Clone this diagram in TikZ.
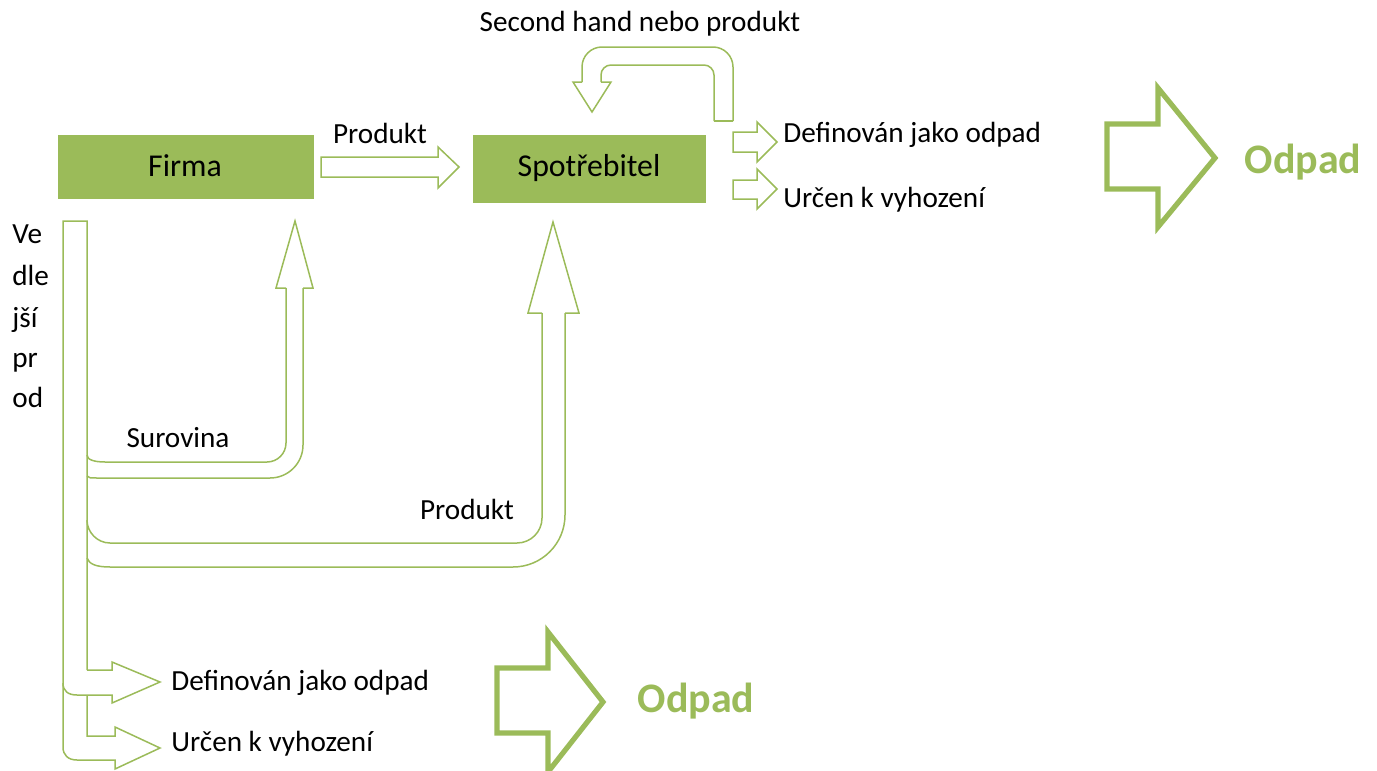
\documentclass[tikz,border=0pt]{standalone}
\usepackage{fontspec}
\setmainfont{Carlito}
\definecolor{og}{HTML}{9BBB59}
\begin{document}
\begin{tikzpicture}[x=0.5pt,y=-0.5pt,
  outl/.style={draw=og, line width=0.75pt, line join=miter},
  bigarrow/.style={draw=og, line width=2.6pt, line join=miter},
  box/.style={fill=og, draw=none},
  lbl/.style={font=\fontsize{14.6pt}{17pt}\selectfont, inner sep=0pt, text height=9.4pt, text depth=0pt},
  boxlbl/.style={font=\fontsize{15.9pt}{19pt}\selectfont, inner sep=0pt, text height=10.2pt, text depth=0pt},
  odpad/.style={font=\fontsize{21pt}{25pt}\selectfont\bfseries, text=og, inner sep=0pt, text height=13.5pt, text depth=0pt}]
\useasboundingbox (0,0) rectangle (1377,771);
% boxes
\fill[box] (58,135) rectangle (314,199);
\fill[box] (473,135) rectangle (706,203);
\node[boxlbl] (firma) at (185,166) {Firma};
\node[boxlbl] (spotr) at (589,166) {Spotřebitel};
% Firma -> Spotrebitel
\draw[outl] (321,157) -- (438,157) -- (438,147) -- (459,167) -- (438,188) -- (438,177) -- (321,177) -- cycle;
\node[lbl] (prod1) at (380,134) {Produkt};
% U-turn
\draw[outl] (714,121) [rounded corners=5pt] -- (714,65) -- (601,65) -- (601,82);
\draw[outl] (601,82) -- (611,82) -- (592,112) -- (573,82) -- (582,82);
\draw[outl] (582,82) [rounded corners=10pt] -- (582,47) -- (733,47) -- (733,121);
\draw[outl] (733,121) -- (714,121);
\node[lbl] (second) at (640,22) {Second hand nebo produkt};
% right small arrows
\draw[outl] (733,132) -- (757,132) -- (757,122) -- (777,142) -- (757,162) -- (757,152) -- (733,152) -- cycle;
\draw[outl] (733,180) -- (757,180) -- (757,169) -- (777,189) -- (757,209) -- (757,199) -- (733,199) -- cycle;
\node[lbl, anchor=west] (def1) at (783,133) {Definován jako odpad};
\node[lbl, anchor=west] (urc1) at (783,198) {Určen k vyhození};
% big arrow top
\draw[bigarrow] (1107,124) -- (1158,124) -- (1158,88) -- (1215,158) -- (1158,227) -- (1158,189) -- (1107,189) -- cycle;
\node[odpad] (odpad1) at (1303,160) {Odpad};
% left band
\draw[outl] (87,670) -- (87,221) -- (63,221) -- (63,747) .. controls (63,755) and (68,760) .. (77,760) -- (115,760) -- (115,769) -- (160,748) -- (115,727) -- (115,736) -- (87,736) -- (87,695);
\draw[outl] (63,683) .. controls (63,691) and (68,695) .. (77,695) -- (112,695) -- (112,703) -- (160,682) -- (112,662) -- (112,670) -- (87,670);
\foreach \t/\yy/\nm in {Ve/234/va,dle/276/vb,jší/318/vc,pr/358/vd,od/398/ve}
  \node[lbl, anchor=west] (\nm) at (12,\yy) {\t};
% Surovina arrow
\draw[outl] (87,455) .. controls (87,460) and (95,462) .. (105,462) [rounded corners=9.5pt] -- (286,462) -- (286,288);
\draw[outl] (286,288) -- (276,288) -- (295,221) -- (313,288) -- (303,288);
\draw[outl] (87,476) .. controls (89,478) .. (100,478) [rounded corners=16.5pt] -- (303,478) -- (303,288);
\node[lbl] (surovina) at (178,438) {Surovina};
% Produkt arrow
\draw[outl] (87,520) .. controls (87,532) and (97,543) .. (110,543) [rounded corners=12.5pt] -- (542,543) -- (542,313);
\draw[outl] (542,313) -- (528,313) -- (553,222) -- (579,313) -- (565,313);
\draw[outl] (87,558) .. controls (89,564) and (96,567) .. (110,567) [rounded corners=26pt] -- (565,567) -- (565,313);
\node[lbl] (prod2) at (467,510) {Produkt};
% bottom texts
\node[lbl, anchor=west] (def2) at (171,681) {Definován jako odpad};
\node[lbl, anchor=west] (urc2) at (171,742) {Určen k vyhození};
% big arrow bottom
\draw[bigarrow] (497,668) -- (548,668) -- (548,632) -- (603,702) -- (548,772) -- (548,733) -- (497,733) -- cycle;
\node[odpad] (odpad2) at (696,699) {Odpad};
\end{tikzpicture}
\end{document}
